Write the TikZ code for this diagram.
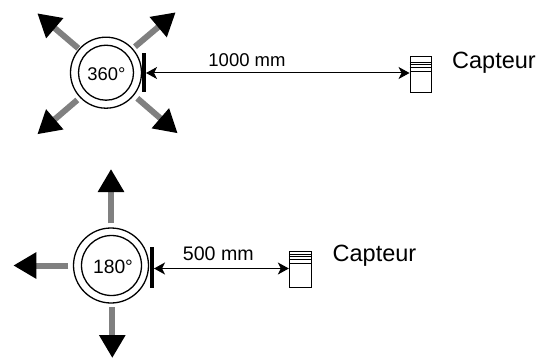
\documentclass[tikz,border=0pt]{standalone}
\usepackage{fontspec}
\setmainfont{Liberation Sans}
\usetikzlibrary{arrows.meta}
\tikzset{
  ring/.style={draw=black,circle,inner sep=0pt,line width=1.3pt,minimum size=#1},
  stopbar/.style={fill=black,draw=none,inner sep=0pt,minimum width=3.6pt,minimum height=39pt},
  sensorbox/.style={draw=black,fill=white,inner sep=0pt,line width=.9pt,minimum width=21pt,minimum height=35.5pt},
  sensorline/.style={draw=black,line width=.55pt},
  spread/.style={draw=black!50,line width=6pt,-{Triangle[length=23pt,width=25pt,color=black]}},
  span/.style={draw=black,line width=1pt,{Stealth[length=11pt,width=12pt,inset=3pt]}-{Stealth[length=11pt,width=12pt,inset=3pt]}},
  dimtext/.style={inner sep=0pt,anchor=base,font=\fontsize{18.5}{20}\selectfont},
  angletext/.style={inner sep=0pt,font=\fontsize{18.4}{20}\selectfont},
  nametext/.style={inner sep=0pt,anchor=base west,font=\fontsize{23.5}{26}\selectfont}
}
\begin{document}
\begin{tikzpicture}[x=1pt,y=-1pt]
\path[use as bounding box] (0,0) rectangle (548,358);
% upper
\node[ring=71pt] (o1) at (106,72.7) {};
\node[ring=55pt] (i1) at (106,72.7) {};
\node[angletext] (t1) at (106.5,74.5) {360°};
\node[stopbar] (b1) at (144,72.5) {};
\node[sensorbox] (s1) at (420.5,74.5) {};
\draw[sensorline] (s1.west |- 0,62) -- (s1.east |- 0,62);
\draw[sensorline] (s1.west |- 0,64.3) -- (s1.east |- 0,64.3);
\draw[sensorline] (s1.west |- 0,67) -- (s1.east |- 0,67);
\draw[sensorline] (s1.west |- 0,71) -- (s1.east |- 0,71);
\coordinate (a1) at (78.3,48.3); \coordinate (a1t) at (37.3,13.3);
\coordinate (a2) at (135,46.7); \coordinate (a2t) at (175.7,12.3);
\coordinate (a3) at (77.3,100); \coordinate (a3t) at (37.3,134.3);
\coordinate (a4) at (137.3,98.3); \coordinate (a4t) at (177.7,133.3);
\draw[spread] (a1) -- (a1t);
\draw[spread] (a2) -- (a2t);
\draw[spread] (a3) -- (a3t);
\draw[spread] (a4) -- (a4t);
\draw[span] (b1.east |- 0,73) -- (s1.west |- 0,73);
\node[dimtext] (d1) at (247,66.7) {1000 mm};
\node[nametext] (n1) at (452,68.3) {Capteur};
% lower
\node[ring=75pt] (o2) at (111,265.5) {};
\node[ring=60pt] (i2) at (111.5,265.5) {};
\node[angletext,font=\fontsize{19.3}{22}\selectfont] (t2) at (113,267) {180°};
\node[stopbar,minimum height=41pt] (b2) at (152,267) {};
\node[sensorbox,minimum width=22pt,minimum height=36.5pt] (s2) at (300.3,269.5) {};
\draw[sensorline] (s2.west |- 0,254.3) -- (s2.east |- 0,254.3);
\draw[sensorline] (s2.west |- 0,256.7) -- (s2.east |- 0,256.7);
\draw[sensorline] (s2.west |- 0,259.3) -- (s2.east |- 0,259.3);
\draw[sensorline] (s2.west |- 0,263.3) -- (s2.east |- 0,263.3);
\coordinate (c1) at (111,223.3); \coordinate (c1t) at (111,169);
\coordinate (c2) at (68.3,265.5); \coordinate (c2t) at (13.3,265.5);
\coordinate (c3) at (112.3,307.3); \coordinate (c3t) at (112.3,358);
\draw[spread] (c1) -- (c1t);
\draw[spread] (c2) -- (c2t);
\draw[spread] (c3) -- (c3t);
\draw[span,line width=1.3pt] (b2.east |- 0,268.5) -- (s2.west |- 0,268.5);
\node[dimtext,font=\fontsize{19.6}{22}\selectfont] (d2) at (218.3,260) {500 mm};
\node[nametext] (n2) at (332.5,261.7) {Capteur};
\end{tikzpicture}
\end{document}
